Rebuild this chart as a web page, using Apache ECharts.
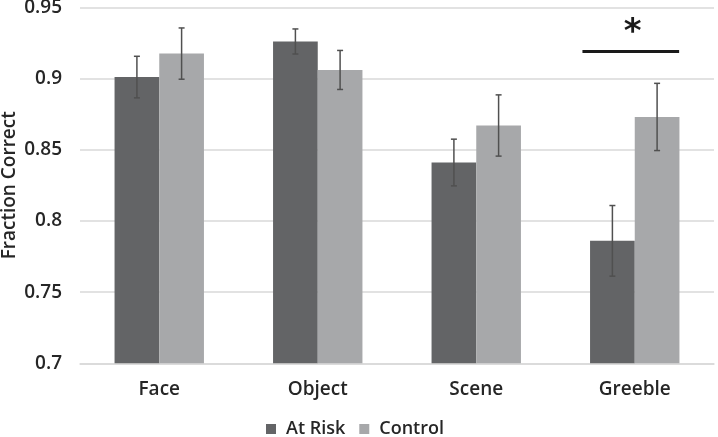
<!DOCTYPE html>
<html>
<head>
<meta charset="utf-8">
<script src="https://cdn.jsdelivr.net/npm/echarts@6/dist/echarts.min.js"></script>
<style>
html,body{margin:0;padding:0;background:#fff;}
#chart{width:718px;height:437px;}
</style>
</head>
<body>
<div id="chart"></div>
<script>
const categories = ['Face', 'Object', 'Scene', 'Greeble'];
const atRisk = [0.901, 0.926, 0.841, 0.786];
const control = [0.9175, 0.906, 0.867, 0.873];
const atRiskErr = [0.0146, 0.0088, 0.0164, 0.0248];
const controlErr = [0.018, 0.0137, 0.0215, 0.0236];
const yTicks = [0.7, 0.75, 0.8, 0.85, 0.9, 0.95];
const sigCategory = 'Greeble';
const sigLevel = 0.919;
const sigLabel = '*';

const FONT = '"Open Sans", sans-serif';
const TXT = '#262626';
const DARK = '#636466';
const LIGHT = '#a7a8aa';
const BARW = 0.282;

function errData(vals, errs) {
  return vals.map((v, i) => [i, v - errs[i], v + errs[i]]);
}

function errRender(side) {
  return function (params, api) {
    const ci = api.value(0);
    const lo = api.coord([ci, api.value(1)]);
    const hi = api.coord([ci, api.value(2)]);
    const band = api.size([1, 0])[0];
    const x = lo[0] + side * band * BARW / 2;
    const cap = 3;
    const st = { stroke: '#505050', lineWidth: 1.5 };
    return {
      type: 'group',
      children: [
        { type: 'line', shape: { x1: x, y1: hi[1], x2: x, y2: lo[1] }, style: st },
        { type: 'line', shape: { x1: x - cap, y1: hi[1], x2: x + cap, y2: hi[1] }, style: st },
        { type: 'line', shape: { x1: x - cap, y1: lo[1], x2: x + cap, y2: lo[1] }, style: st }
      ]
    };
  };
}

const chart = echarts.init(document.getElementById('chart'));
chart.setOption({
  animation: false,
  backgroundColor: '#ffffff',
  grid: { left: 80, right: 4, top: 7.3, bottom: 73.7, containLabel: false, outerBoundsMode: 'none' },
  legend: {
    data: ['At Risk', 'Control'],
    left: 261,
    top: 415,
    itemWidth: 10,
    itemHeight: 10,
    itemGap: 14,
    icon: 'rect',
    textStyle: { fontFamily: FONT, fontSize: 18, fontWeight: 600, color: TXT, padding: [0, 0, 0, 5] }
  },
  xAxis: {
    type: 'category',
    data: categories,
    axisLine: { lineStyle: { color: '#d9d9d9', width: 1.5 } },
    axisTick: { show: false },
    axisLabel: { fontFamily: FONT, fontSize: 19, fontWeight: 600, color: TXT, margin: 17 }
  },
  yAxis: {
    type: 'value',
    min: yTicks[0],
    max: yTicks[yTicks.length - 1],
    interval: 0.05,
    name: 'Fraction Correct',
    nameLocation: 'middle',
    nameGap: 61,
    nameMoveOverlap: false,
    nameTextStyle: { fontFamily: FONT, fontSize: 19, fontWeight: 600, color: TXT },
    axisLine: { show: false },
    axisTick: { show: false },
    splitLine: { lineStyle: { color: '#d9d9d9', width: 1.5 } },
    axisLabel: { fontFamily: FONT, fontSize: 19, fontWeight: 600, color: TXT, margin: 18 }
  },
  series: [
    {
      name: 'At Risk', type: 'bar', data: atRisk,
      barWidth: (BARW * 100) + '%', barGap: '0%',
      itemStyle: { color: DARK }
    },
    {
      name: 'Control', type: 'bar', data: control,
      barWidth: (BARW * 100) + '%', barGap: '0%',
      itemStyle: { color: LIGHT }
    },
    {
      type: 'custom', name: 'errAtRisk', z: 10,
      renderItem: errRender(-1),
      data: errData(atRisk, atRiskErr),
      encode: { x: 0, y: [1, 2] }
    },
    {
      type: 'custom', name: 'errControl', z: 10,
      renderItem: errRender(1),
      data: errData(control, controlErr),
      encode: { x: 0, y: [1, 2] }
    },
    {
      type: 'custom', name: 'sig', z: 10,
      data: [[categories.indexOf(sigCategory), sigLevel]],
      encode: { x: 0, y: 1 },
      renderItem: function (params, api) {
        const p = api.coord([api.value(0), api.value(1)]);
        const band = api.size([1, 0])[0];
        return {
          type: 'group',
          children: [
            { type: 'line', shape: { x1: p[0] - band * 0.33, y1: p[1], x2: p[0] + band * 0.28, y2: p[1] },
              style: { stroke: '#1a1a1a', lineWidth: 3 } },
            { type: 'text', x: p[0] - 2, y: p[1] - 1,
              style: { text: sigLabel, fill: '#1a1a1a', font: 'bold 34px "DejaVu Sans", sans-serif',
                       textAlign: 'center', textVerticalAlign: 'bottom' } }
          ]
        };
      }
    }
  ]
});
</script>
</body>
</html>
